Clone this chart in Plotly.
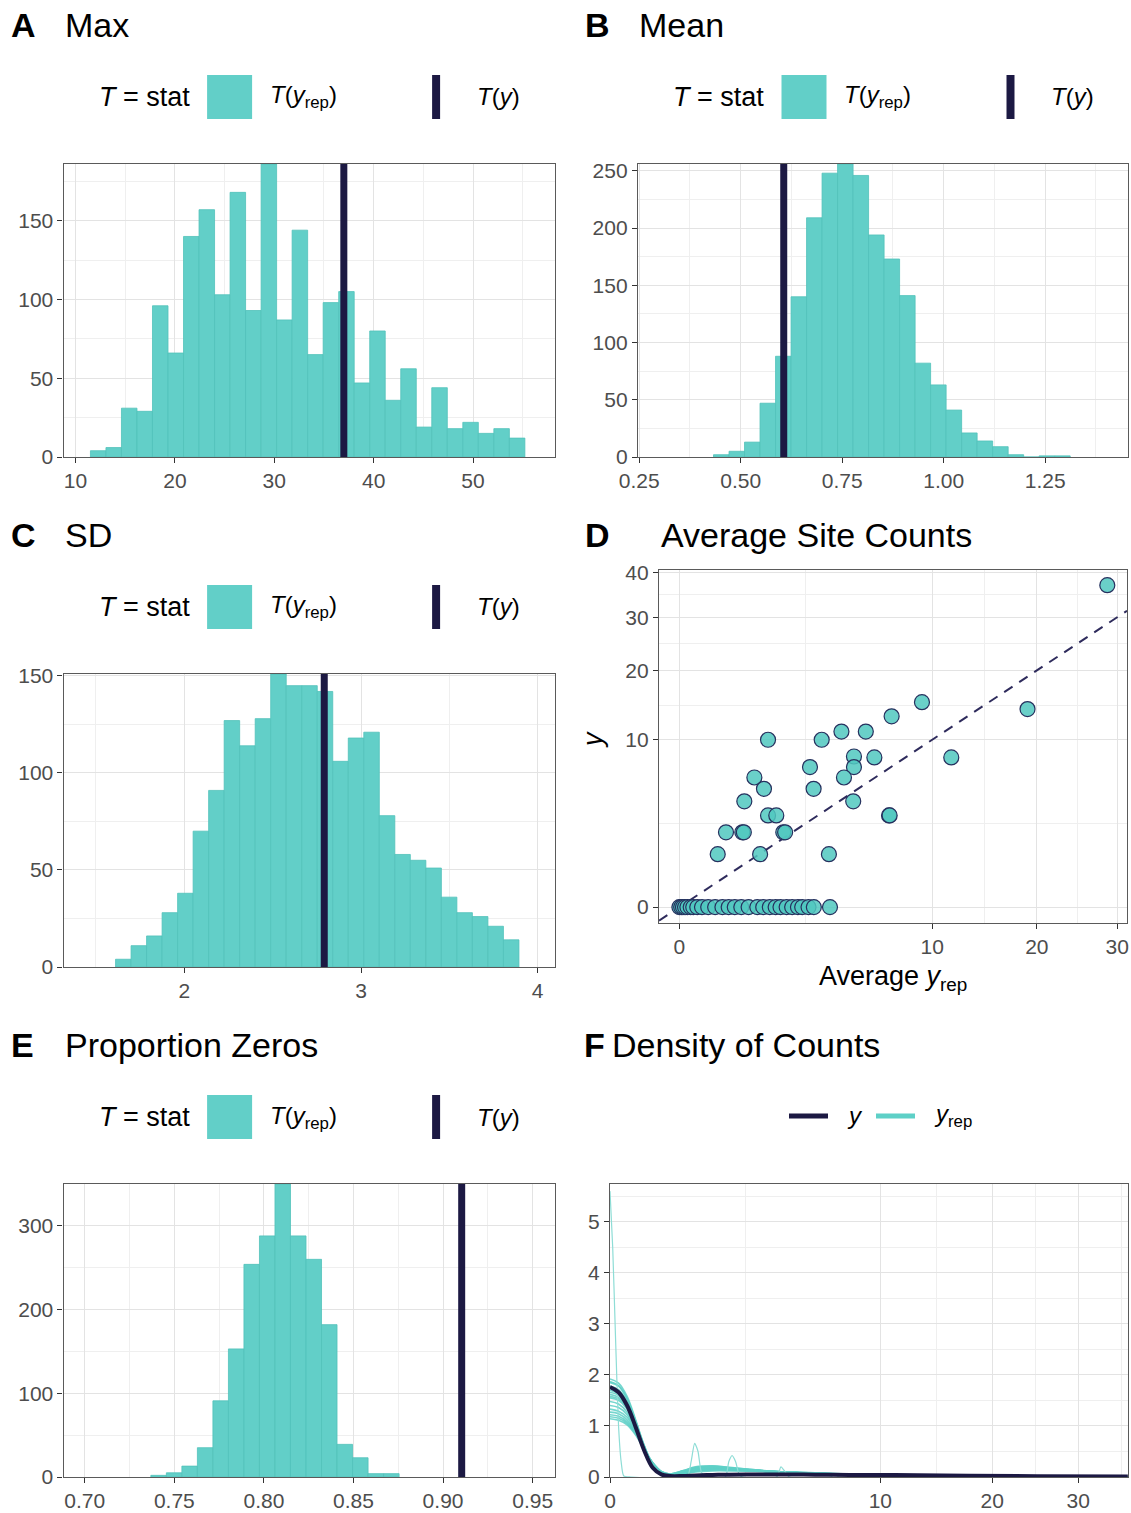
import numpy as np
import plotly.graph_objects as go

W, H = 1131, 1513
TEAL = "#62CFC8"
TEAL_EDGE = "#50C2BA"
TEAL_LINE = "#5ED0C7"
DARK = "#1C1943"
GRID = "#E3E3E3"
GRID_MINOR = "#EFEFEF"
FONT = "Liberation Sans, Arial, Helvetica, sans-serif"
TICKCOL = "#4D4D4D"

# ---------------- data ----------------
# A: Max
max_bin_start = 11.5
max_bin_width = 1.5614
max_counts = [4, 6, 31, 29, 96, 66, 140, 157, 103, 168, 93, 186, 87, 144,
              65, 98, 105, 47, 80, 36, 56, 19, 44, 18, 22, 15, 18, 12]
max_obs = 37.0
max_ticks = [10, 20, 30, 40, 50]

# B: Mean
mean_bin_start = 0.433
mean_bin_width = 0.0382
mean_counts = [2, 5, 13, 47, 88, 140, 209, 248, 256, 246, 194, 173, 141, 82,
               63, 41, 21, 14, 9, 2, 0, 1, 1]
mean_obs = 0.606
mean_ticks = [0.25, 0.50, 0.75, 1.00, 1.25]
mean_ticktext = ["0.25", "0.50", "0.75", "1.00", "1.25"]

# C: SD
sd_bin_start = 1.611
sd_bin_width = 0.0878
sd_counts = [4, 11, 16, 28, 38, 70, 91, 127, 114, 128, 151, 145, 145, 142,
             106, 118, 121, 78, 58, 55, 51, 36, 28, 26, 21, 14]
sd_obs = 2.792
sd_ticks = [2, 3, 4]

# E: Proportion zeros
prop_bin_start = 0.7369
prop_bin_width = 0.00866
prop_counts = [2, 5, 13, 35, 91, 153, 254, 288, 350, 288, 260, 182, 39, 23, 4, 4]
prop_obs = 0.9104
prop_ticks = [0.70, 0.75, 0.80, 0.85, 0.90, 0.95]
prop_ticktext = ["0.70", "0.75", "0.80", "0.85", "0.90", "0.95"]

# D: Average site counts (average y_rep vs observed y)
avg_yrep_nonzero = [28.66, 9.21, 18.97, 7.05, 4.11, 5.44, 1.23, 3.17, 2.67, 4.77,
                    5.95, 11.57, 4.77, 4.24, 0.88, 1.12, 2.82, 0.66, 4.73, 1.23,
                    1.47, 6.88, 6.92, 0.34, 0.62, 0.65, 1.69, 1.75, 0.23, 1.02, 3.50]
y_obs_nonzero = [37, 15, 14, 13, 11, 11, 10, 10, 7, 8.1,
                 8, 8, 7, 6, 6, 5, 5, 4, 4, 3,
                 3, 3, 3, 2, 2, 2, 2, 2, 1, 1, 1]
avg_yrep_zero = [0, 0.0005, 0.002, 0.005, 0.01, 0.02, 0.03, 0.05, 0.08, 0.13,
                 0.2, 0.29, 0.38, 0.48, 0.6, 0.75, 0.95, 1.1, 1.28, 1.45,
                 1.6, 1.8, 1.99, 2.2, 2.36, 2.61, 2.83, 3.55]
d_xticks = [0, 10, 20, 30]
d_yticks = [0, 10, 20, 30, 40]

# F: Density of counts (x in count units, plotted on sqrt scale)
dens_grid = [0, 0.01, 0.04, 0.09, 0.16, 0.25, 0.36, 0.49, 0.72, 1.0, 1.44,
             1.96, 2.89, 4.0, 5.76, 7.84, 10.24, 12.96, 17.64, 25.0, 36.7]
dens_y = [1.76, 1.66, 1.40, 0.98, 0.52, 0.18, 0.05, 0.02, 0.02, 0.03, 0.04,
          0.045, 0.05, 0.05, 0.045, 0.04, 0.04, 0.035, 0.025, 0.015, 0.01]
dens_yrep = [
    [1.92, 1.84, 1.58, 1.12, 0.62, 0.25, 0.07, 0.03, 0.06, 0.12, 0.15, 0.14, 0.12, 0.09, 0.06, 0.04, 0.03, 0.02, 0.01, 0.005, 0.002],
    [1.85, 1.78, 1.53, 1.09, 0.61, 0.24, 0.07, 0.03, 0.07, 0.13, 0.16, 0.15, 0.12, 0.10, 0.07, 0.05, 0.03, 0.02, 0.01, 0.005, 0.002],
    [1.78, 1.71, 1.48, 1.06, 0.60, 0.24, 0.07, 0.03, 0.07, 0.14, 0.17, 0.15, 0.12, 0.10, 0.07, 0.05, 0.03, 0.02, 0.01, 0.005, 0.002],
    [1.70, 1.63, 1.43, 1.03, 0.59, 0.24, 0.07, 0.03, 0.07, 0.13, 0.16, 0.15, 0.12, 0.10, 0.07, 0.05, 0.035, 0.02, 0.01, 0.004, 0.001],
    [1.66, 1.60, 1.40, 1.01, 0.58, 0.25, 0.08, 0.04, 0.08, 0.16, 0.19, 0.17, 0.13, 0.09, 0.06, 0.04, 0.03, 0.02, 0.01, 0.004, 0.001],
    [1.62, 1.56, 1.37, 1.00, 0.58, 0.25, 0.08, 0.04, 0.09, 0.18, 0.21, 0.18, 0.13, 0.09, 0.06, 0.04, 0.03, 0.02, 0.01, 0.004, 0.001],
    [1.55, 1.50, 1.33, 0.98, 0.58, 0.25, 0.08, 0.04, 0.08, 0.13, 0.15, 0.14, 0.12, 0.10, 0.08, 0.06, 0.04, 0.03, 0.015, 0.006, 0.002],
    [1.48, 1.43, 1.27, 0.95, 0.57, 0.26, 0.09, 0.05, 0.10, 0.16, 0.18, 0.16, 0.13, 0.10, 0.07, 0.05, 0.03, 0.02, 0.01, 0.004, 0.001],
    [1.40, 1.36, 1.22, 0.92, 0.56, 0.26, 0.09, 0.05, 0.10, 0.17, 0.19, 0.16, 0.13, 0.10, 0.07, 0.05, 0.03, 0.02, 0.01, 0.004, 0.001],
    [1.33, 1.29, 1.17, 0.90, 0.56, 0.27, 0.10, 0.05, 0.10, 0.17, 0.19, 0.17, 0.13, 0.09, 0.06, 0.04, 0.03, 0.02, 0.012, 0.005, 0.002],
    [1.27, 1.24, 1.12, 0.88, 0.55, 0.27, 0.10, 0.06, 0.11, 0.18, 0.20, 0.17, 0.13, 0.10, 0.08, 0.05, 0.03, 0.02, 0.01, 0.005, 0.002],
    [1.22, 1.19, 1.08, 0.86, 0.55, 0.28, 0.11, 0.06, 0.11, 0.18, 0.20, 0.17, 0.13, 0.10, 0.08, 0.05, 0.03, 0.02, 0.01, 0.005, 0.002],
    [1.18, 1.15, 1.05, 0.84, 0.54, 0.28, 0.11, 0.06, 0.12, 0.19, 0.21, 0.18, 0.14, 0.10, 0.07, 0.05, 0.03, 0.02, 0.01, 0.004, 0.001],
    [1.14, 1.11, 1.02, 0.82, 0.54, 0.28, 0.11, 0.06, 0.12, 0.20, 0.22, 0.19, 0.14, 0.10, 0.07, 0.05, 0.03, 0.02, 0.01, 0.004, 0.001],
    [1.87, 1.79, 1.54, 1.10, 0.61, 0.24, 0.06, 0.02, 0.05, 0.11, 0.14, 0.14, 0.12, 0.10, 0.08, 0.05, 0.03, 0.02, 0.01, 0.006, 0.002],
    [1.58, 1.53, 1.35, 0.99, 0.58, 0.25, 0.08, 0.04, 0.06, 0.10, 0.12, 0.12, 0.11, 0.09, 0.08, 0.06, 0.04, 0.03, 0.015, 0.006, 0.002],
]
spike_x = [0, 0.001, 0.004, 0.01, 0.017, 0.026, 0.06, 0.81, 0.9, 0.98, 1.06, 1.14,
           1.25, 1.82, 1.93, 2.04, 2.16, 2.28, 2.4, 3.8, 4.0, 4.2, 4.4, 6.66, 6.92, 7.18, 36.7]
spike_y = [5.6, 4.5, 2.8, 1.0, 0.3, 0.02, 0, 0, 0.3, 0.66, 0.5, 0.1,
           0, 0, 0.3, 0.42, 0.3, 0.05, 0, 0, 0.2, 0.1, 0, 0, 0.05, 0, 0]
f_xticks = [0, 10, 20, 30]
f_yticks = [0, 1, 2, 3, 4, 5]

# ---------------- helpers ----------------
def fx(px):
    return px / W

def fy(py):
    return 1 - py / H

def midpoints(vals, extra_high=False):
    v = list(vals)
    out = [(a + b) / 2 for a, b in zip(v[:-1], v[1:])]
    if extra_high:
        out = out + [v[-1] + (v[-1] - v[-2]) / 2]
    return out

fig = go.Figure()
layout = dict(
    template="none",
    width=W, height=H, margin=dict(l=0, r=0, t=0, b=0, pad=0),
    paper_bgcolor="white", plot_bgcolor="white", showlegend=False,
    font=dict(family=FONT, color="black"),
    shapes=[], annotations=[],
)

def axis(domain, rng, tickvals, ticktext, minor_vals, anchor):
    return dict(
        domain=domain, range=rng, anchor=anchor, automargin=False,
        tickmode="array", tickvals=tickvals, ticktext=ticktext,
        showline=True, mirror=True, linecolor="#5A5A5A", linewidth=1.3,
        ticks="outside", ticklen=5, tickwidth=1.3, tickcolor="#333333",
        showgrid=True, gridcolor=GRID, gridwidth=1.3,
        minor=dict(tickmode="array", tickvals=minor_vals, showgrid=True,
                   gridcolor=GRID_MINOR, gridwidth=0.9, ticks=""),
        zeroline=False, fixedrange=True,
        tickfont=dict(family=FONT, size=21, color=TICKCOL),
    )

panels = {
    "A": dict(x=(63.6, 554.5), y=(164, 457), ax="x", ay="y"),
    "B": dict(x=(638, 1128), y=(164, 457), ax="x2", ay="y2"),
    "C": dict(x=(63.6, 554.5), y=(674, 967), ax="x3", ay="y3"),
    "D": dict(x=(659, 1127), y=(570, 923), ax="x4", ay="y4"),
    "E": dict(x=(63.6, 554.5), y=(1184, 1477), ax="x5", ay="y5"),
    "F": dict(x=(610, 1128), y=(1184, 1477), ax="x6", ay="y6"),
}

def key(ax):
    return ax[0] + "axis" + ax[1:]

def hist_panel(p, start, width, counts, obs, xr, xticks, xtext, xminor, yticks, yminor):
    pn = panels[p]
    centers = [start + width * (i + 0.5) for i in range(len(counts))]
    fig.add_trace(go.Bar(x=centers, y=counts, width=width,
                         marker=dict(color=TEAL, line=dict(color=TEAL_EDGE, width=0.8)),
                         xaxis=pn["ax"], yaxis=pn["ay"], hoverinfo="skip"))
    ymax = max(counts)
    layout[key(pn["ax"])] = axis([fx(pn["x"][0]), fx(pn["x"][1])], xr, xticks, xtext, xminor, pn["ay"])
    layout[key(pn["ay"])] = axis([fy(pn["y"][1]), fy(pn["y"][0])], [0, ymax], yticks,
                                 [str(t) for t in yticks], yminor, pn["ax"])
    layout["shapes"].append(dict(type="line", xref=pn["ax"], yref=pn["ay"] + " domain",
                                 x0=obs, x1=obs, y0=0, y1=1,
                                 line=dict(color=DARK, width=7), layer="above"))

hist_panel("A", max_bin_start, max_bin_width, max_counts, max_obs, [8.8, 58.2],
           max_ticks, [str(t) for t in max_ticks], [15, 25, 35, 45, 55],
           [0, 50, 100, 150], [25, 75, 125, 175])
hist_panel("B", mean_bin_start, mean_bin_width, mean_counts, mean_obs, [0.247, 1.454],
           mean_ticks, mean_ticktext, [0.375, 0.625, 0.875, 1.125, 1.375],
           [0, 50, 100, 150, 200, 250], [25, 75, 125, 175, 225])
hist_panel("C", sd_bin_start, sd_bin_width, sd_counts, sd_obs, [1.317, 4.095],
           sd_ticks, [str(t) for t in sd_ticks], [1.5, 2.5, 3.5],
           [0, 50, 100, 150], [25, 75, 125])
hist_panel("E", prop_bin_start, prop_bin_width, prop_counts, prop_obs, [0.6882, 0.9622],
           prop_ticks, prop_ticktext, [0.725, 0.775, 0.825, 0.875, 0.925],
           [0, 100, 200, 300], [50, 150, 250, 350])

# ---------------- D scatter (sqrt scales) ----------------
pD = panels["D"]
d_xr = [-0.255, 5.60]
d_yr = [-0.30, 6.37]
sx_t = list(np.sqrt(d_xticks))
sy_t = list(np.sqrt(d_yticks))
fig.add_trace(go.Scatter(x=d_xr, y=d_xr, mode="lines",
                         line=dict(color="#2E2B5C", width=2, dash="10px,8px"),
                         xaxis=pD["ax"], yaxis=pD["ay"], hoverinfo="skip"))
pt_marker = dict(size=15, color="rgba(80,200,192,0.85)", line=dict(color="#26305E", width=1.2))
fig.add_trace(go.Scatter(x=np.sqrt(avg_yrep_zero), y=np.zeros(len(avg_yrep_zero)), mode="markers",
                         marker=pt_marker, xaxis=pD["ax"], yaxis=pD["ay"], hoverinfo="skip"))
fig.add_trace(go.Scatter(x=np.sqrt(avg_yrep_nonzero), y=np.sqrt(y_obs_nonzero), mode="markers",
                         marker=pt_marker, xaxis=pD["ax"], yaxis=pD["ay"], hoverinfo="skip"))
layout[key(pD["ax"])] = axis([fx(pD["x"][0]), fx(pD["x"][1])], d_xr, sx_t,
                             [str(t) for t in d_xticks], midpoints(sx_t), pD["ay"])
layout[key(pD["ay"])] = axis([fy(pD["y"][1]), fy(pD["y"][0])], d_yr, sy_t,
                             [str(t) for t in d_yticks], midpoints(sy_t), pD["ax"])

# ---------------- F density (sqrt x) ----------------
pF = panels["F"]
for curve in dens_yrep:
    fig.add_trace(go.Scatter(x=np.sqrt(dens_grid), y=curve, mode="lines",
                             line=dict(color=TEAL_LINE, width=1.6, shape="spline"),
                             opacity=0.85, xaxis=pF["ax"], yaxis=pF["ay"], hoverinfo="skip"))
fig.add_trace(go.Scatter(x=np.sqrt(spike_x), y=spike_y, mode="lines",
                         line=dict(color="#8EDDD6", width=1.2, shape="spline", smoothing=0.6),
                         xaxis=pF["ax"], yaxis=pF["ay"], hoverinfo="skip"))
fig.add_trace(go.Scatter(x=np.sqrt(dens_grid), y=dens_y, mode="lines",
                         line=dict(color=DARK, width=4, shape="spline"),
                         xaxis=pF["ax"], yaxis=pF["ay"], hoverinfo="skip"))
fsx = list(np.sqrt(f_xticks))
layout[key(pF["ax"])] = axis([fx(pF["x"][0]), fx(pF["x"][1])], [0, 6.06], fsx,
                             [str(t) for t in f_xticks], midpoints(fsx, extra_high=True), pF["ay"])
layout[key(pF["ay"])] = axis([fy(pF["y"][1]), fy(pF["y"][0])], [0, 5.74], f_yticks,
                             [str(t) for t in f_yticks], [0.5, 1.5, 2.5, 3.5, 4.5, 5.5], pF["ax"])

# ---------------- titles ----------------
def ann(text, x, y, size, xanchor="left", color="black", **kw):
    layout["annotations"].append(dict(text=text, x=fx(x), y=fy(y), xref="paper", yref="paper",
                                      xanchor=xanchor, yanchor="middle", showarrow=False,
                                      font=dict(family=FONT, size=size, color=color), **kw))

titles = [("A", "Max", 9, 63, 25), ("B", "Mean", 583, 637, 25),
          ("C", "SD", 9, 63, 535), ("D", "Average Site Counts", 583, 659, 535),
          ("E", "Proportion Zeros", 9, 63, 1045), ("F", "Density of Counts", 582, 610, 1045)]
for letter, title, lx, tx, ty in titles:
    ann("<b>" + letter + "</b>", lx, ty, 34)
    ann(title, tx, ty, 34)

# ---------------- histogram legends ----------------
def stat_legend(left, cy):
    ann("<i>T</i> = stat", left + 33, cy, 27)
    layout["shapes"].append(dict(type="rect", xref="paper", yref="paper",
                                 x0=fx(left + 143.5), x1=fx(left + 188.5),
                                 y0=fy(cy + 22), y1=fy(cy - 22),
                                 fillcolor=TEAL, line=dict(width=0)))
    ann("<i>T</i>(<i>y</i><sub>rep</sub>)", left + 204, cy, 24)
    layout["shapes"].append(dict(type="rect", xref="paper", yref="paper",
                                 x0=fx(left + 368.5), x1=fx(left + 376.5),
                                 y0=fy(cy + 22), y1=fy(cy - 22),
                                 fillcolor=DARK, line=dict(width=0)))
    ann("<i>T</i>(<i>y</i>)", left + 411, cy, 24)

stat_legend(63.6, 97)
stat_legend(638, 97)
stat_legend(63.6, 607)
stat_legend(63.6, 1117)

# F legend
layout["shapes"].append(dict(type="line", xref="paper", yref="paper",
                             x0=fx(789), x1=fx(828), y0=fy(1116), y1=fy(1116),
                             line=dict(color=DARK, width=5)))
layout["shapes"].append(dict(type="line", xref="paper", yref="paper",
                             x0=fx(876), x1=fx(915), y0=fy(1116), y1=fy(1116),
                             line=dict(color=TEAL_LINE, width=5)))
ann("<i>y</i>", 845, 1115, 24)
ann("<i>y</i><sub>rep</sub>", 932, 1115, 24)

# D axis titles
ann("<i>y</i>", 593, 740, 27, xanchor="center", textangle=-90)
ann("Average <i>y</i><sub>rep</sub>", 893, 978, 27, xanchor="center")

fig.update_layout(**layout)
fig.write_html(
    "out.html",
    config={"displayModeBar": False, "staticPlot": False},
    post_script="document.body.style.margin='0';document.body.style.padding='0';"
                "document.documentElement.style.overflow='hidden';",
)
